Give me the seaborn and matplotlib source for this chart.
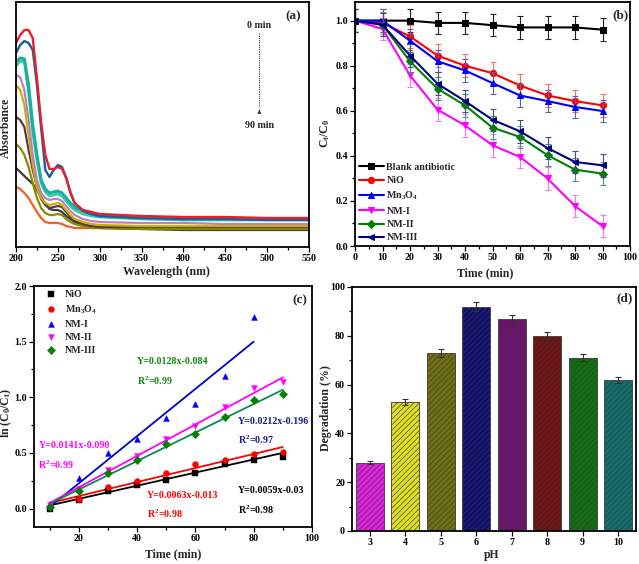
import numpy as np
import pandas as pd
import matplotlib
matplotlib.use('Agg')
import matplotlib.pyplot as plt
import seaborn as sns
from matplotlib.ticker import MultipleLocator, NullLocator, FormatStrFormatter

# ---------------- data: panel (a) UV-vis spectra ----------------
wavelength = [200, 205, 210, 215, 220, 225, 230, 235, 240, 245, 250, 255, 260,
              265, 270, 280, 290, 300, 350, 400, 450, 500, 550]
spec_times = ['0 min', '10 min', '20 min', '30 min', '40 min', '50 min',
              '60 min', '70 min', '80 min', '90 min']
abs_0 = [2.04, 2.12, 2.17, 2.17, 2.09, 1.69, 1.25, 0.92, 0.78, 0.78, 0.80, 0.78, 0.69,
         0.55, 0.44, 0.37, 0.35, 0.33, 0.31, 0.30, 0.30, 0.29, 0.29]
abs_10 = [1.94, 2.02, 2.06, 2.04, 1.97, 1.62, 1.19, 0.77, 0.70, 0.77, 0.82, 0.80, 0.69,
          0.54, 0.44, 0.36, 0.33, 0.31, 0.29, 0.28, 0.28, 0.27, 0.27]
abs_20 = [1.85, 1.89, 1.88, 1.62, 1.22, 0.92, 0.67, 0.58, 0.54, 0.55, 0.56, 0.54, 0.49,
          0.44, 0.40, 0.36, 0.33, 0.31, 0.29, 0.28, 0.28, 0.28, 0.28]
abs_30 = [1.81, 1.86, 1.85, 1.55, 1.15, 0.87, 0.64, 0.55, 0.51, 0.52, 0.53, 0.51, 0.46,
          0.41, 0.37, 0.33, 0.31, 0.30, 0.28, 0.27, 0.27, 0.27, 0.27]
abs_40 = [1.72, 1.70, 1.57, 1.27, 0.92, 0.67, 0.54, 0.49, 0.47, 0.48, 0.48, 0.46, 0.41,
          0.36, 0.32, 0.28, 0.26, 0.25, 0.24, 0.24, 0.23, 0.23, 0.23]
abs_50 = [1.62, 1.57, 1.42, 1.12, 0.82, 0.59, 0.49, 0.44, 0.42, 0.43, 0.44, 0.42, 0.37,
          0.32, 0.28, 0.25, 0.23, 0.22, 0.21, 0.21, 0.21, 0.21, 0.21]
abs_60 = [1.30, 1.27, 1.20, 0.97, 0.77, 0.60, 0.48, 0.42, 0.39, 0.40, 0.41, 0.40, 0.35,
          0.30, 0.27, 0.23, 0.21, 0.20, 0.20, 0.20, 0.20, 0.20, 0.20]
abs_70 = [1.03, 0.99, 0.92, 0.80, 0.64, 0.49, 0.39, 0.34, 0.32, 0.32, 0.33, 0.32, 0.28,
          0.25, 0.23, 0.21, 0.19, 0.19, 0.18, 0.18, 0.18, 0.18, 0.18]
abs_80 = [0.79, 0.75, 0.71, 0.67, 0.63, 0.57, 0.50, 0.43, 0.38, 0.37, 0.37, 0.35, 0.31,
          0.28, 0.25, 0.22, 0.20, 0.19, 0.18, 0.17, 0.17, 0.17, 0.17]
abs_90 = [0.60, 0.58, 0.54, 0.49, 0.42, 0.35, 0.29, 0.25, 0.24, 0.24, 0.24, 0.23, 0.21,
          0.20, 0.19, 0.19, 0.19, 0.19, 0.19, 0.19, 0.19, 0.20, 0.20]
spec_colors = ['#e8202c', '#1f5c9c', '#16b39a', '#3ccaa8', '#c27fc0', '#c8b400',
               '#5c3848', '#8a8a00', '#3a3a48', '#f0601e']
spec_widths = [1.7, 1.7, 2.2, 2.0, 1.6, 1.6, 1.6, 1.6, 1.6, 1.6]

# ---------------- data: panel (b) Ct/C0 ----------------
time_b = [0, 10, 20, 30, 40, 50, 60, 70, 80, 90]
names_b = ['Blank antibiotic', 'NiO', 'Mn$_3$O$_4$', 'NM-I', 'NM-II', 'NM-III']
blank = [1.00, 1.00, 1.00, 0.99, 0.99, 0.98, 0.97, 0.97, 0.97, 0.96]
nio_b = [1.00, 0.99, 0.93, 0.845, 0.80, 0.767, 0.712, 0.668, 0.643, 0.624]
mn3o4_b = [1.00, 1.00, 0.911, 0.82, 0.779, 0.723, 0.668, 0.643, 0.617, 0.599]
nm1_b = [1.00, 0.963, 0.757, 0.605, 0.535, 0.447, 0.395, 0.30, 0.177, 0.088]
nm2_b = [1.00, 0.982, 0.819, 0.698, 0.624, 0.525, 0.484, 0.403, 0.339, 0.321]
nm3_b = [1.00, 0.982, 0.845, 0.72, 0.643, 0.56, 0.509, 0.435, 0.373, 0.358]
err_b = [0.05, 0.05, 0.05, 0.05, 0.05, 0.05, 0.05, 0.05, 0.05, 0.05]
colors_b = ['#000000', '#ff0000', '#0000ff', '#ff00ff', '#008000', '#000080']
ecolors_b = ['#202020', '#ff6a6a', '#5a64a8', '#ff70ff', '#3c9c7c', '#4a4a88']
markers_b = ['s', 'o', '^', 'v', 'D', '<']

# ---------------- data: panel (c) kinetics ----------------
time_c = [10, 20, 30, 40, 50, 60, 70, 80, 90]
names_c = ['NiO', 'Mn$_3$O$_4$', 'NM-I', 'NM-II', 'NM-III']
nio_c = [0.0, 0.075, 0.159, 0.21, 0.26, 0.32, 0.40, 0.435, 0.465]
mn3o4_c = [0.02, 0.09, 0.195, 0.246, 0.32, 0.405, 0.435, 0.495, 0.51]
nm1_c = [0.04, 0.279, 0.50, 0.63, 0.81, 0.94, 1.19, 1.72]
nm2_c = [0.03, 0.18, 0.35, 0.47, 0.63, 0.74, 0.91, 1.08, 1.14]
nm3_c = [0.015, 0.16, 0.32, 0.435, 0.58, 0.67, 0.825, 0.98, 1.03]
colors_c = ['#000000', '#ff0000', '#0000ff', '#ff00ff', '#008000']
markers_c = ['s', 'o', '^', 'v', 'D']
# fitted lines (slope, intercept) as printed, with their x-range end
fit_slope = [0.0059, 0.0063, 0.0212, 0.0141, 0.0128]
fit_icpt = [-0.03, -0.013, -0.196, -0.090, -0.084]
fit_xend = [90, 90, 80, 90, 90]
line_colors_c = ['#000000', '#ff0000', '#0000cc', '#ff00ff', '#0a8a50']
eq_texts = ['Y=0.0059x-0.03', 'Y=0.0063x-0.013', 'Y=0.0212x-0.196',
            'Y=0.0141x-0.090', 'Y=0.0128x-0.084']
r2_texts = ['R$^2$=0.98', 'R$^2$=0.98', 'R$^2$=0.97', 'R$^2$=0.99', 'R$^2$=0.99']
eq_colors = ['#000000', '#ff0000', '#1a1a8c', '#ff00ff', '#108a10']

# ---------------- data: panel (d) pH ----------------
ph_labels = ['3', '4', '5', '6', '7', '8', '9', '10']
degradation = [28, 53, 73, 92, 87, 80, 71, 62]
deg_err = [0.6, 1.2, 1.5, 1.8, 1.7, 1.7, 1.5, 1.2]
colors_d = ['#ff00ff', '#ffff00', '#808000', '#000080', '#800080', '#800000',
            '#008000', '#008080']

# ---------------- style ----------------
sns.set_style('ticks')
plt.rcParams['font.family'] = ['Liberation Serif', 'DejaVu Serif']
plt.rcParams['font.weight'] = 'bold'
plt.rcParams['axes.labelweight'] = 'bold'
plt.rcParams['mathtext.fontset'] = 'custom'
plt.rcParams['mathtext.rm'] = 'Liberation Serif:bold'
plt.rcParams['mathtext.it'] = 'Liberation Serif:bold'
plt.rcParams['mathtext.bf'] = 'Liberation Serif:bold'
plt.rcParams['mathtext.default'] = 'rm'
plt.rcParams['hatch.linewidth'] = 0.45

W, H = 639, 564
fig = plt.figure(figsize=(W / 100, H / 100), dpi=100)


def add_ax(l, t, r, b):
    return fig.add_axes([l / W, 1 - b / H, (r - l) / W, (b - t) / H])


def style(ax):
    for s in ax.spines.values():
        s.set_visible(True)
        s.set_linewidth(1.3)
        s.set_color('black')
    ax.tick_params(which='both', direction='out', width=0.9, colors='black',
                   labelsize=7.2, pad=1.5)
    ax.tick_params(which='major', length=3.5)
    ax.tick_params(which='minor', length=2)
    ax.grid(False)


LABEL_FS = 8.5
TEXT_FS = 7.2

axA = add_ax(16, 2, 309, 247)
axB = add_ax(355, 1.5, 630, 246)
axC = add_ax(34, 286, 312, 527)
axD = add_ax(352, 287, 636, 531)

# ---------------- panel (a) ----------------
spectra = [abs_0, abs_10, abs_20, abs_30, abs_40, abs_50, abs_60, abs_70, abs_80, abs_90]
rows = []
for t, a in zip(spec_times, spectra):
    for w, v in zip(wavelength, a):
        rows.append((t, w, v))
df_a = pd.DataFrame(rows, columns=['time', 'wl', 'A'])
for t, c, lw in list(zip(spec_times, spec_colors, spec_widths))[::-1]:
    sns.lineplot(data=df_a[df_a['time'] == t], x='wl', y='A', color=c,
                 linewidth=lw, ax=axA)
axA.set_xlim(200, 550)
axA.set_ylim(0, 2.45)
axA.xaxis.set_major_locator(MultipleLocator(50))
axA.xaxis.set_minor_locator(MultipleLocator(25))
axA.yaxis.set_major_locator(NullLocator())
axA.yaxis.set_minor_locator(NullLocator())
style(axA)
axA.set_xlabel('Wavelength (nm)', fontsize=LABEL_FS)
axA.set_ylabel('Absorbance', fontsize=LABEL_FS)
axA.xaxis.set_label_coords(0.514, -0.10)
axA.yaxis.set_label_coords(-0.034, 0.486)
axA.xaxis.label.set_va('center')
axA.yaxis.label.set_va('center')
axA.text(490.7, 2.21, '0 min', ha='center', va='center', fontsize=TEXT_FS)
axA.plot([490.7, 490.7], [2.14, 1.40], ls=(0, (1, 1)), lw=0.8, color='#333333')
axA.annotate('', xy=(490.7, 1.40), xytext=(490.7, 1.34),
             arrowprops=dict(arrowstyle='-|>', color='#333333', lw=0.6,
                             mutation_scale=5))
axA.text(490.7, 1.21, '90 min', ha='center', va='center', fontsize=TEXT_FS)
axA.text(0.945, 0.943, '(a)', transform=axA.transAxes, ha='center', va='center',
         fontsize=9.5)

# ---------------- panel (b) ----------------
series_b = [blank, nio_b, mn3o4_b, nm1_b, nm2_b, nm3_b]
for name, ys, c, ec, m in zip(names_b, series_b, colors_b, ecolors_b, markers_b):
    axB.errorbar(time_b, ys, yerr=err_b, fmt='none', ecolor=ec, elinewidth=0.8,
                 capsize=2, capthick=0.8)
    sns.lineplot(x=time_b, y=ys, color=c, marker=m, markersize=4.5,
                 markeredgecolor=c, linewidth=1.5, label=name, ax=axB)
axB.set_xlim(0, 100)
axB.set_ylim(0, 1.085)
axB.xaxis.set_major_locator(MultipleLocator(10))
axB.xaxis.set_minor_locator(MultipleLocator(5))
axB.yaxis.set_major_locator(MultipleLocator(0.2))
axB.yaxis.set_minor_locator(MultipleLocator(0.1))
axB.yaxis.set_major_formatter(FormatStrFormatter('%.1f'))
style(axB)
axB.set_xlabel('Time (min)', fontsize=LABEL_FS)
axB.set_ylabel('C$_t$/C$_0$', fontsize=LABEL_FS)
axB.xaxis.set_label_coords(0.473, -0.11)
axB.yaxis.set_label_coords(-0.109, 0.462)
axB.xaxis.label.set_va('center')
axB.yaxis.label.set_va('center')
axB.legend(loc='lower left', bbox_to_anchor=(0.0, 0.0), frameon=False,
           fontsize=7.2, handlelength=2.5, handletextpad=0.3, labelspacing=0.45,
           borderaxespad=0.15, borderpad=0.2)
axB.text(0.964, 0.945, '(b)', transform=axB.transAxes, ha='center', va='center',
         fontsize=9.5)

# ---------------- panel (c) ----------------
series_c = [nio_c, mn3o4_c, nm1_c, nm2_c, nm3_c]
for name, ys, c, m in zip(names_c, series_c, colors_c, markers_c):
    sns.scatterplot(x=time_c[:len(ys)], y=ys, color=c, marker=m, s=18,
                    edgecolor=c, linewidth=0.3, label=name, ax=axC, zorder=3)
for k in range(len(fit_slope)):
    xs = np.array([time_c[0], fit_xend[k]], dtype=float)
    sns.lineplot(x=xs, y=fit_slope[k] * xs + fit_icpt[k], color=line_colors_c[k],
                 linewidth=1.3, ax=axC, zorder=2)
axC.set_xlim(4.6, 100)
axC.set_ylim(-0.165, 2.0)
axC.xaxis.set_major_locator(MultipleLocator(20))
axC.xaxis.set_minor_locator(MultipleLocator(10))
axC.yaxis.set_major_locator(MultipleLocator(0.5))
axC.yaxis.set_minor_locator(MultipleLocator(0.25))
axC.yaxis.set_major_formatter(FormatStrFormatter('%.1f'))
style(axC)
axC.set_xlabel('Time (min)', fontsize=LABEL_FS)
axC.set_ylabel('ln (C$_0$/C$_t$)', fontsize=LABEL_FS)
axC.xaxis.set_label_coords(0.501, -0.112)
axC.yaxis.set_label_coords(-0.10, 0.472)
axC.xaxis.label.set_va('center')
axC.yaxis.label.set_va('center')
axC.legend(loc='upper left', bbox_to_anchor=(0.025, 1.0), frameon=False,
           fontsize=7.2, handlelength=1.2, handletextpad=0.8, labelspacing=0.4,
           borderaxespad=0.2, borderpad=0.2, markerscale=1.0)
# equation annotations (x, y in data coords)
eq_pos = [(74.5, 0.165, -0.01), (43.3, 0.12, -0.045), (74.5, 0.78, 0.614),
          (6.1, 0.569, 0.395), (40.0, 1.325, 1.15)]
for (x, y1, y2), t1, t2, c in zip(eq_pos, eq_texts, r2_texts, eq_colors):
    axC.text(x, y1, t1, color=c, fontsize=TEXT_FS, ha='left', va='center')
    axC.text(x, y2, t2, color=c, fontsize=TEXT_FS, ha='left', va='center')
axC.text(0.957, 0.942, '(c)', transform=axC.transAxes, ha='center', va='center',
         fontsize=9.5)

# ---------------- panel (d) ----------------
df_d = pd.DataFrame({'pH': ph_labels, 'deg': degradation})
sns.barplot(data=df_d, x='pH', y='deg', hue='pH', order=ph_labels,
            palette=dict(zip(ph_labels, colors_d)), legend=False, width=0.8,
            edgecolor='#3a3a3a', linewidth=0.6, ax=axD)
for p in axD.patches:
    p.set_hatch('//////')
axD.errorbar(range(len(ph_labels)), degradation, yerr=deg_err, fmt='none',
             ecolor='#333333', elinewidth=0.8, capsize=2, capthick=0.8)
axD.set_xlim(-0.5, len(ph_labels) - 0.5)
axD.set_ylim(0, 100)
axD.yaxis.set_major_locator(MultipleLocator(20))
axD.yaxis.set_minor_locator(MultipleLocator(10))
style(axD)
axD.set_xlabel('pH', fontsize=LABEL_FS)
axD.set_ylabel('Degradation (%)', fontsize=LABEL_FS)
axD.xaxis.set_label_coords(0.492, -0.098)
axD.yaxis.set_label_coords(-0.0915, 0.503)
axD.xaxis.label.set_va('center')
axD.yaxis.label.set_va('center')
axD.text(0.958, 0.955, '(d)', transform=axD.transAxes, ha='center', va='center',
         fontsize=9.5)

fig.savefig('out.png', dpi=100)
